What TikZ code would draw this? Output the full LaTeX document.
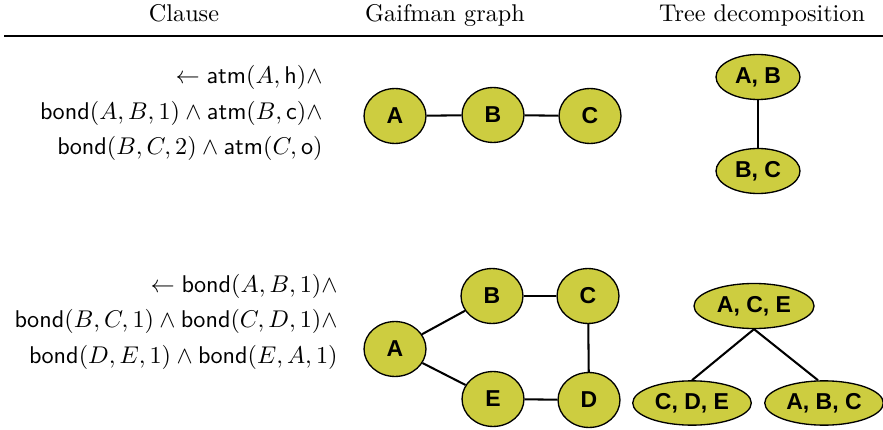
\documentclass[tikz,border=0pt]{standalone}
\usepackage{fontspec}
\usetikzlibrary{shapes.geometric}
\newfontfamily\nodefont{Liberation Sans}
\definecolor{nodefill}{RGB}{205,205,64}
\tikzset{
  head/.style={anchor=base, inner sep=0pt, font=\normalsize},
  clauseline/.style={anchor=base east, inner sep=0pt},
  vtx/.style={ellipse, draw=black, line width=0.55pt, fill=nodefill, inner sep=0pt,
    minimum width=25.6pt, minimum height=22.7pt,
    font=\nodefont\bfseries\fontsize{9.5}{11}\selectfont},
  bag/.style={vtx, minimum width=34.7pt, minimum height=18.6pt},
  bigbag/.style={vtx, minimum width=49pt, minimum height=18.3pt},
  edge/.style={draw=black, line width=0.85pt},
}
\begin{document}
\begin{tikzpicture}[x=0.41322pt, y=-0.41322pt]
\useasboundingbox (0,0) rectangle (883,430);
% headers
\node[head] (h1) at (184,22) {Clause};
\node[head] (h2) at (445,22) {Gaifman graph};
\node[head] (h3) at (762,22) {Tree decomposition};
\coordinate (r0) at (4,36);
\coordinate (r1) at (883,36);
\draw[line width=0.6pt] (r0) -- (r1);
% clause 1
\node[clauseline] (c1a) at (323,84) {$\leftarrow\mathsf{atm}(A,\mathsf{h})\wedge$};
\node[clauseline] (c1b) at (323,120) {$\mathsf{bond}(A,B,1)\wedge\mathsf{atm}(B,\mathsf{c})\wedge$};
\node[clauseline] (c1c) at (323,155) {$\mathsf{bond}(B,C,2)\wedge\mathsf{atm}(C,\mathsf{o})$};
% clause 2
\node[clauseline] (c2a) at (338,292) {$\leftarrow\mathsf{bond}(A,B,1)\wedge$};
\node[clauseline] (c2b) at (338,327.5) {$\mathsf{bond}(B,C,1)\wedge\mathsf{bond}(C,D,1)\wedge$};
\node[clauseline] (c2c) at (338,363) {$\mathsf{bond}(D,E,1)\wedge\mathsf{bond}(E,A,1)$};
% Gaifman graph 1
\node[vtx] (ga) at (395,116) {A};
\node[vtx] (gb) at (493,115) {B};
\node[vtx] (gc) at (590,116) {C};
\draw[edge] (ga) -- (gb);
\draw[edge] (gb) -- (gc);
% tree 1
\node[bag] (tab) at (758,77) {A, B};
\node[bag] (tbc) at (758,171) {B, C};
\draw[edge] (tab) -- (tbc);
% Gaifman graph 2
\node[vtx] (hA) at (395,349) {A};
\node[vtx] (hB) at (492,296) {B};
\node[vtx] (hC) at (588,296) {C};
\node[vtx] (hE) at (493,399) {E};
\node[vtx] (hD) at (589,400) {D};
\draw[edge] (hA) -- (hB);
\draw[edge] (hB) -- (hC);
\draw[edge] (hC) -- (hD);
\draw[edge] (hE) -- (hD);
\draw[edge] (hA) -- (hE);
% tree 2
\node[bigbag, minimum width=49.6pt, minimum height=18.6pt] (tace) at (754,306) {A, C, E};
\node[bigbag] (tcde) at (692,403) {C, D, E};
\node[bigbag] (tabc) at (824,403) {A, B, C};
\draw[edge] (tace.south) -- (tcde.north);
\draw[edge] (tace.south) -- ([xshift=-2.5pt]tabc.north);
\end{tikzpicture}
\end{document}
